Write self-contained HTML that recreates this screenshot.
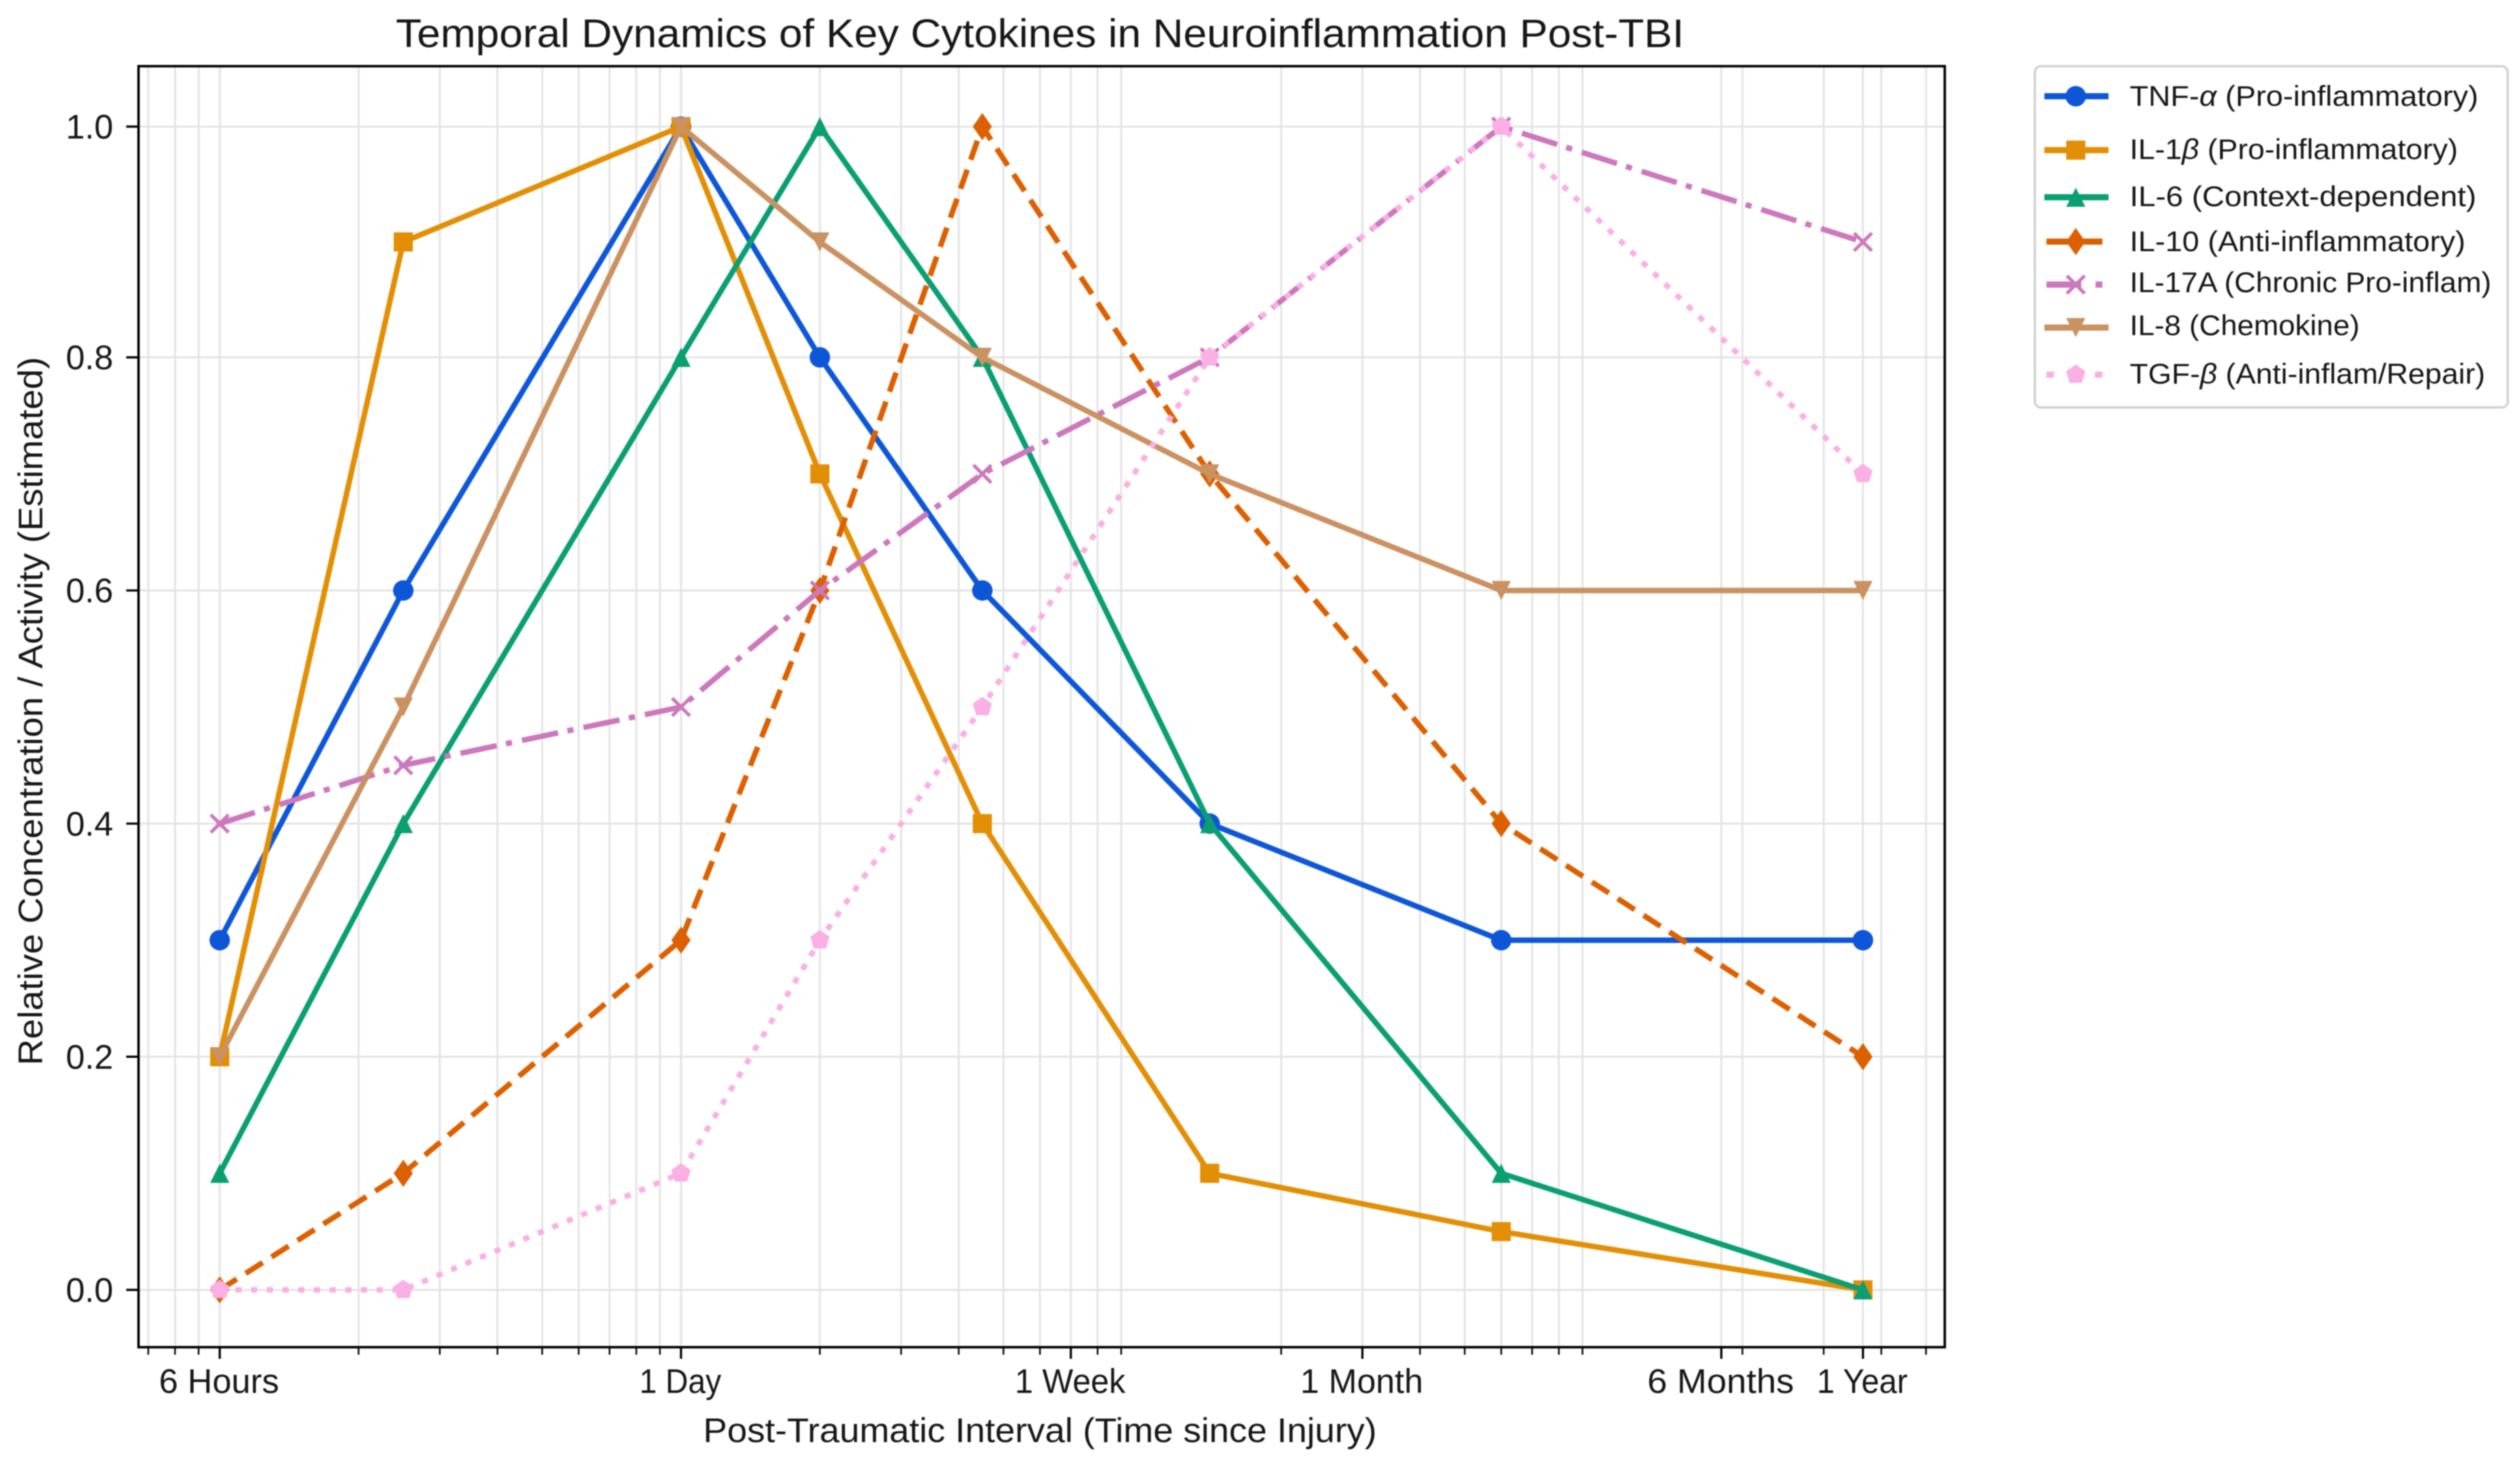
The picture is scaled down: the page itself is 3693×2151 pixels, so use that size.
<!DOCTYPE html>
<html lang="en">
<head>
<meta charset="utf-8">
<title>Temporal Dynamics of Key Cytokines</title>
<style>
html,body{margin:0;padding:0;background:#fff;width:3693px;height:2151px;overflow:hidden}
svg{display:block;filter:blur(0.7px)}
text{font-family:"Liberation Sans",sans-serif;fill:#161616}
</style>
</head>
<body>
<svg id="chart" xmlns="http://www.w3.org/2000/svg" width="3693" height="2151" viewBox="0 0 3693 2151">
  <rect x="0" y="0" width="3693" height="2151" fill="#ffffff"/>
  <g id="grid"></g>
  <g id="series"></g>
  <rect x="203" y="97" width="2647" height="1877" fill="none" stroke="#000" stroke-width="3.6"/>
  <g id="ticks"></g>
  <text x="1524" y="69" font-size="58" text-anchor="middle" textLength="1888" lengthAdjust="spacingAndGlyphs">Temporal Dynamics of Key Cytokines in Neuroinflammation Post-TBI</text>
  <text x="1524" y="2113" font-size="50" text-anchor="middle" textLength="987" lengthAdjust="spacingAndGlyphs">Post-Traumatic Interval (Time since Injury)</text>
  <text transform="translate(62 1042) rotate(-90)" font-size="50" text-anchor="middle" textLength="1038" lengthAdjust="spacingAndGlyphs">Relative Concentration / Activity (Estimated)</text>

  <g>
    <rect x="2982" y="97" width="693" height="500" rx="9" ry="9" fill="#fff" stroke="#d2d2d2" stroke-width="3.5"/>

    <g>
      <line x1="2996" y1="141" x2="3090" y2="141" stroke="#0d56d8" stroke-width="9"/>
      <circle cx="3042" cy="141" r="15" fill="#0d56d8"/>
      <text x="3121" y="155" font-size="42" textLength="511" lengthAdjust="spacingAndGlyphs">TNF-<tspan font-style="italic">α</tspan> (Pro-inflammatory)</text>
    </g>
    <g>
      <line x1="2996" y1="220" x2="3090" y2="220" stroke="#e28f05" stroke-width="9"/>
      <rect x="3028" y="206" width="28" height="28" fill="#e28f05"/>
      <text x="3121" y="233" font-size="42" textLength="481" lengthAdjust="spacingAndGlyphs">IL-1<tspan font-style="italic">β</tspan> (Pro-inflammatory)</text>
    </g>
    <g>
      <line x1="2996" y1="289" x2="3090" y2="289" stroke="#0a9e73" stroke-width="9"/>
      <polygon points="3042,275 3056,303 3028,303" fill="#0a9e73"/>
      <text x="3121" y="302" font-size="42" textLength="508" lengthAdjust="spacingAndGlyphs">IL-6 (Context-dependent)</text>
    </g>
    <g>
      <line x1="2999" y1="354" x2="3081" y2="354" stroke="#dc6000" stroke-width="9"/>
      <polygon points="3042,334 3056,354 3042,374 3028,354" fill="#dc6000"/>
      <text x="3121" y="368" font-size="42" textLength="492" lengthAdjust="spacingAndGlyphs">IL-10 (Anti-inflammatory)</text>
    </g>
    <g>
      <line x1="2999" y1="417" x2="3050" y2="417" stroke="#cc78bc" stroke-width="9"/>
      <line x1="3071" y1="417" x2="3081" y2="417" stroke="#cc78bc" stroke-width="9"/>
      <path d="M3029 404L3055 430M3029 430L3055 404" stroke="#cc78bc" stroke-width="5" fill="none"/>
      <text x="3121" y="428" font-size="42" textLength="530" lengthAdjust="spacingAndGlyphs">IL-17A (Chronic Pro-inflam)</text>
    </g>
    <g>
      <line x1="2996" y1="480" x2="3090" y2="480" stroke="#ca9161" stroke-width="9"/>
      <polygon points="3028,466 3056,466 3042,494" fill="#ca9161"/>
      <text x="3121" y="491" font-size="42" textLength="337" lengthAdjust="spacingAndGlyphs">IL-8 (Chemokine)</text>
    </g>
    <g>
      <line x1="2999" y1="549" x2="3010" y2="549" stroke="#fbafe4" stroke-width="9"/>
      <line x1="3070" y1="549" x2="3081" y2="549" stroke="#fbafe4" stroke-width="9"/>
      <polygon points="3042,534 3056,544 3051,561 3033,561 3028,544" fill="#fbafe4"/>
      <text x="3121" y="562" font-size="42" textLength="521" lengthAdjust="spacingAndGlyphs">TGF-<tspan font-style="italic">β</tspan> (Anti-inflam/Repair)</text>
    </g>
  </g>
</svg>
<script>
// Chart data
const timeDays = [0.1, 0.25, 1, 2, 4.5, 14, 60, 365];
const tnfValues = [0.3, 0.6, 1.0, 0.8, 0.6, 0.4, 0.3, 0.3];
const il1bValues = [0.2, 0.9, 1.0, 0.7, 0.4, 0.1, 0.05, 0.0];
const il6Values = [0.1, 0.4, 0.8, 1.0, 0.8, 0.4, 0.1, 0.0];
const il10Values = [0.0, 0.1, 0.3, 0.6, 1.0, 0.7, 0.4, 0.2];
const il17aValues = [0.4, 0.45, 0.5, 0.6, 0.7, 0.8, 1.0, 0.9];
const il8Values = [0.2, 0.5, 1.0, 0.9, 0.8, 0.7, 0.6, 0.6];
const tgfbValues = [0.0, 0.0, 0.1, 0.3, 0.5, 0.8, 1.0, 0.7];
const xMajorValues = [0.1, 1, 7, 30, 180, 365];
const xMajorLabels = ['6 Hours', '1 Day', '1 Week', '1 Month', '6 Months', '1 Year'];
const xMajorLabelWidths = [176, 120, 162, 180, 215, 133];
const xMinorValues = [0.07, 0.08, 0.09, 0.2, 0.3, 0.4, 0.5, 0.6, 0.7, 0.8, 0.9, 2, 3, 4, 5, 6, 8, 9, 20, 40, 50, 60, 70, 80, 90, 200, 300, 400, 500];
const yTickValues = [0.0, 0.2, 0.4, 0.6, 0.8, 1.0];
const yTickLabels = ['0.0', '0.2', '0.4', '0.6', '0.8', '1.0'];

// Axis functions
const PLOT_LEFT = 203, PLOT_RIGHT = 2850, PLOT_TOP = 97, PLOT_BOTTOM = 1974;
function xScale(days) { return 998 + 676 * Math.log10(days); }
// The reference is slightly compressed above 0.8, so the y axis has two linear segments.
function yScale(v) {
  if (v > 0.8) return 523.5 - (v - 0.8) * 1690;
  return 1890 - 1708 * v;
}

const NS = 'http://www.w3.org/2000/svg';
function mk(tag, attrs, parent) {
  const el = document.createElementNS(NS, tag);
  for (const k in attrs) el.setAttribute(k, attrs[k]);
  parent.appendChild(el);
  return el;
}
const gridLayer = document.getElementById('grid');
const tickLayer = document.getElementById('ticks');
const seriesLayer = document.getElementById('series');
const GRID = '#e3e3e3';

xMinorValues.forEach(function (d) {
  const x = xScale(d);
  const g = mk('line', {x1: x, x2: x, y1: PLOT_TOP, y2: PLOT_BOTTOM, stroke: GRID, 'stroke-width': 2.8}, gridLayer);
  
  
  const t = mk('line', {x1: x, x2: x, y1: PLOT_BOTTOM, y2: PLOT_BOTTOM + 11, stroke: '#000', 'stroke-width': 2.4}, tickLayer);
  
  
});
xMajorValues.forEach(function (d, i) {
  const x = xScale(d);
  const g = mk('line', {x1: x, x2: x, y1: PLOT_TOP, y2: PLOT_BOTTOM, stroke: GRID, 'stroke-width': 2.8}, gridLayer);
  
  
  const t = mk('line', {x1: x, x2: x, y1: PLOT_BOTTOM, y2: PLOT_BOTTOM + 17, stroke: '#000', 'stroke-width': 3.2}, tickLayer);
  
  
  const lab = mk('text', {x: x - 1, y: 2041, 'font-size': 50, 'text-anchor': 'middle', textLength: xMajorLabelWidths[i], lengthAdjust: 'spacingAndGlyphs'}, tickLayer);
  lab.textContent = xMajorLabels[i];
  
  
});
yTickValues.forEach(function (v, i) {
  const y = yScale(v);
  const g = mk('line', {x1: PLOT_LEFT, x2: PLOT_RIGHT, y1: y, y2: y, stroke: GRID, 'stroke-width': 2.8}, gridLayer);
  
  
  const t = mk('line', {x1: PLOT_LEFT - 18, x2: PLOT_LEFT, y1: y, y2: y, stroke: '#000', 'stroke-width': 3.2}, tickLayer);
  
  
  const lab = mk('text', {x: 166, y: y + 17.5, 'font-size': 50, 'text-anchor': 'end'}, tickLayer);
  lab.textContent = yTickLabels[i];
  
  
});

function drawMarker(shape, cx, cy, color, parent) {
  let m;
  if (shape === 'circle') {
    m = mk('circle', {cx: cx, cy: cy, r: 15, fill: color}, parent);
  } else if (shape === 'square') {
    m = mk('rect', {x: cx - 14, y: cy - 14, width: 28, height: 28, fill: color}, parent);
  } else if (shape === 'up') {
    m = mk('polygon', {points: [cx, cy - 14, cx + 14, cy + 14, cx - 14, cy + 14].join(' '), fill: color}, parent);
  } else if (shape === 'down') {
    m = mk('polygon', {points: [cx - 14, cy - 14, cx + 14, cy - 14, cx, cy + 14].join(' '), fill: color}, parent);
  } else if (shape === 'diamond') {
    m = mk('polygon', {points: [cx, cy - 20, cx + 14, cy, cx, cy + 20, cx - 14, cy].join(' '), fill: color}, parent);
  } else if (shape === 'x') {
    m = mk('path', {d: 'M' + (cx - 13) + ' ' + (cy - 13) + 'L' + (cx + 13) + ' ' + (cy + 13) + 'M' + (cx - 13) + ' ' + (cy + 13) + 'L' + (cx + 13) + ' ' + (cy - 13), stroke: color, 'stroke-width': 5, fill: 'none'}, parent);
  } else {
    m = mk('polygon', {points: [cx, cy - 15, cx + 14, cy - 5, cx + 9, cy + 12, cx - 9, cy + 12, cx - 14, cy - 5].join(' '), fill: color}, parent);
  }
  return m;
}

function drawSeries(name, values, color, dash, shape) {
  const g = mk('g', {}, seriesLayer);
  
  
  const d = values.map(function (v, i) {
    return (i ? 'L' : 'M') + xScale(timeDays[i]) + ' ' + yScale(v);
  }).join('');
  const attrs = {d: d, fill: 'none', stroke: color, 'stroke-width': 8, 'stroke-linejoin': 'round'};
  if (dash) attrs['stroke-dasharray'] = dash;
  const p = mk('path', attrs, g);
  
  
  values.forEach(function (v, i) {
    const m = drawMarker(shape, xScale(timeDays[i]), yScale(v), color, g);
    
    
  });
}

drawSeries('tnf', tnfValues, '#0d56d8', null, 'circle');
drawSeries('il1b', il1bValues, '#e28f05', null, 'square');
drawSeries('il6', il6Values, '#0a9e73', null, 'up');
drawSeries('il10', il10Values, '#dc6000', '29.6 15.4', 'diamond');
drawSeries('il17a', il17aValues, '#cc78bc', '54 14 9 15', 'x');
drawSeries('il8', il8Values, '#ca9161', null, 'down');
drawSeries('tgfb', tgfbValues, '#fbafe4', '9 14', 'pentagon');
</script>
</body>
</html>
